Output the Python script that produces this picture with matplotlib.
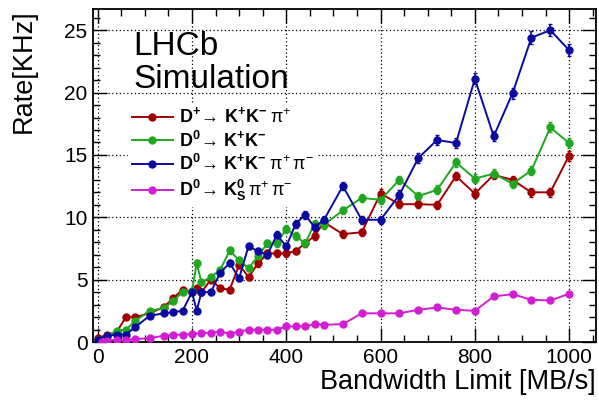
import matplotlib
matplotlib.use("Agg")
import matplotlib.pyplot as plt
from matplotlib.ticker import MultipleLocator
from matplotlib.lines import Line2D

plt.rcParams['font.family'] = ['Liberation Sans', 'DejaVu Sans']
plt.rcParams['mathtext.fontset'] = 'custom'
plt.rcParams['mathtext.rm'] = 'Liberation Sans'
plt.rcParams['mathtext.bf'] = 'Liberation Sans:bold'
plt.rcParams['mathtext.it'] = 'Liberation Sans:italic'

bandwidth = [0, 20, 40, 60, 80, 110, 140, 160, 180, 200, 210, 220, 240, 260, 280,
             300, 320, 340, 360, 380, 400, 420, 440, 460, 480, 520, 560, 600, 640,
             680, 720, 760, 800, 840, 880, 920, 960, 1000]

rate_dp_kkpi = [0.3, 0.6, 0.8, 2.0, 2.0, 2.3, 2.8, 3.5, 4.2, 4.0, 4.3, 4.0, 5.0, 4.3, 4.2,
                6.2, 5.2, 6.3, 7.1, 7.1, 7.1, 7.3, 7.9, 8.5, 9.6, 8.65, 8.8, 11.9, 11.05,
                11.05, 11.0, 13.3, 11.9, 13.4, 13.0, 12.0, 12.0, 14.95]
err_dp_kkpi = [0.05, 0.08, 0.1, 0.15, 0.15, 0.15, 0.15, 0.15, 0.2, 0.2, 0.2, 0.2, 0.2, 0.2, 0.2,
               0.25, 0.2, 0.25, 0.25, 0.25, 0.25, 0.25, 0.25, 0.3, 0.3, 0.3, 0.3, 0.35, 0.3,
               0.3, 0.3, 0.35, 0.35, 0.35, 0.35, 0.35, 0.35, 0.4]

rate_d0_kk = [0.2, 0.5, 0.9, 1.0, 1.7, 2.5, 2.7, 3.3, 4.0, 4.1, 6.3, 4.8, 5.2, 5.8, 7.34,
              6.54, 5.9, 6.9, 7.9, 7.9, 9.05, 8.5, 7.9, 9.5, 9.4, 10.55, 11.55, 11.4, 13.0,
              11.7, 12.2, 14.4, 13.1, 13.5, 12.7, 13.75, 17.2, 15.95]
err_d0_kk = [0.05, 0.08, 0.1, 0.1, 0.15, 0.15, 0.15, 0.15, 0.2, 0.2, 0.25, 0.2, 0.2, 0.2, 0.25,
             0.25, 0.2, 0.25, 0.25, 0.25, 0.3, 0.3, 0.25, 0.3, 0.3, 0.3, 0.3, 0.3, 0.35,
             0.3, 0.35, 0.35, 0.35, 0.35, 0.35, 0.35, 0.4, 0.4]

rate_d0_kkpipi = [0.2, 0.5, 0.6, 0.6, 1.2, 2.1, 2.3, 2.4, 2.5, 4.0, 2.5, 4.0, 4.0, 5.57, 6.33,
                  5.12, 7.7, 7.26, 7.0, 8.6, 7.66, 9.48, 10.2, 9.2, 9.8, 12.5, 9.8, 9.8, 11.8,
                  14.75, 16.2, 15.95, 21.1, 16.5, 19.95, 24.4, 25.0, 23.4]
err_d0_kkpipi = [0.05, 0.08, 0.1, 0.1, 0.15, 0.15, 0.15, 0.15, 0.15, 0.2, 0.15, 0.2, 0.2, 0.2, 0.25,
                 0.2, 0.25, 0.25, 0.25, 0.3, 0.25, 0.3, 0.3, 0.3, 0.3, 0.35, 0.3, 0.3, 0.35,
                 0.4, 0.4, 0.4, 0.45, 0.4, 0.45, 0.5, 0.5, 0.5]

bandwidth_ks = [10, 20, 40, 60, 80, 110, 140, 160, 180, 200, 220, 240, 260, 280, 300, 320,
                340, 360, 380, 400, 420, 440, 460, 480, 520, 560, 600, 640, 680, 720,
                760, 800, 840, 880, 920, 960, 1000]
rate_d0_kspipi = [0.04, 0.12, 0.18, 0.18, 0.23, 0.31, 0.5, 0.58, 0.58, 0.66, 0.71, 0.76, 0.84,
                  0.66, 0.84, 0.98, 0.98, 0.98, 0.98, 1.25, 1.25, 1.25, 1.43, 1.38, 1.43, 2.3,
                  2.3, 2.3, 2.58, 2.77, 2.58, 2.5, 3.65, 3.84, 3.38, 3.33, 3.87]
err_d0_kspipi = [0.02, 0.03, 0.03, 0.03, 0.04, 0.05, 0.05, 0.05, 0.05, 0.06, 0.06, 0.06, 0.06,
                 0.06, 0.06, 0.07, 0.07, 0.07, 0.07, 0.08, 0.08, 0.08, 0.08, 0.08, 0.08, 0.1,
                 0.1, 0.1, 0.1, 0.1, 0.1, 0.1, 0.12, 0.12, 0.12, 0.12, 0.12]

labels = [r'$\mathbf{D^{+}}\!\rightarrow\,\mathbf{K^{+}K^{-}}\;\mathrm{π^{+}}$',
          r'$\mathbf{D^{0}}\!\rightarrow\,\mathbf{K^{+}K^{-}}$',
          r'$\mathbf{D^{0}}\!\rightarrow\,\mathbf{K^{+}K^{-}}\;\mathrm{π^{+}}\,\mathrm{π^{-}}$',
          r'$\mathbf{D^{0}}\!\rightarrow\,\mathbf{K^{0}_{S}}\,\mathrm{π^{+}}\,\mathrm{π^{-}}$']
colors = ['#a00000', '#1fa81f', '#0a0aa0', '#d21ed2']

fig = plt.figure(figsize=(5.99, 4.0), dpi=100)
ax = fig.add_axes([93 / 599, 1 - 342 / 400, 503 / 599, 333 / 400])

series = [(bandwidth, rate_dp_kkpi, err_dp_kkpi),
          (bandwidth, rate_d0_kk, err_d0_kk),
          (bandwidth, rate_d0_kkpipi, err_d0_kkpipi),
          (bandwidth_ks, rate_d0_kspipi, err_d0_kspipi)]
handles = []
for (x, y, e), c, lab in zip(series, colors, labels):
    ax.errorbar(x, y, yerr=e, color=c, marker='o', markersize=5, lw=1.4,
                elinewidth=1.2, capsize=1.5, capthick=1.0, zorder=6)
    handles.append(Line2D([], [], color=c, marker='o', markersize=5, lw=1.4, label=lab))

ax.set_xlim(-10, 1057)
ax.set_ylim(0, 26.7)
ax.xaxis.set_major_locator(MultipleLocator(200))
ax.xaxis.set_minor_locator(MultipleLocator(50))
ax.yaxis.set_major_locator(MultipleLocator(5))
ax.yaxis.set_minor_locator(MultipleLocator(1))
ax.tick_params(which='both', direction='in', top=True, right=True, labelsize=15,
               width=1.0, pad=4)
ax.tick_params(which='major', length=10)
ax.tick_params(which='minor', length=5)
ax.grid(True, which='major', color='black', linestyle=(0, (1, 2)), linewidth=0.9)
for s in ax.spines.values():
    s.set_linewidth(1.3)

ax.set_xlabel('Bandwidth Limit [MB/s]', fontsize=19.5, loc='right', labelpad=2)
ax.set_ylabel('Rate[KHz]', fontsize=19.5, loc='top', labelpad=20)

fig.text(133 / 599, 1 - 55 / 400, 'LHCb', fontsize=24, va='baseline', ha='left')
fig.text(133 / 599, 1 - 88 / 400, 'Simulation', fontsize=24, va='baseline', ha='left')

leg = ax.legend(handles=handles, loc='upper left',
                bbox_to_anchor=(128 / 599, 1 - 104 / 400), bbox_transform=fig.transFigure,
                fontsize=13, frameon=True, facecolor='white', edgecolor='none',
                framealpha=1.0, fancybox=False, handlelength=2.3, handletextpad=0.3,
                labelspacing=0.2, borderpad=0.2, borderaxespad=0)
leg.set_zorder(5)

fig.savefig('out.png', dpi=100)
